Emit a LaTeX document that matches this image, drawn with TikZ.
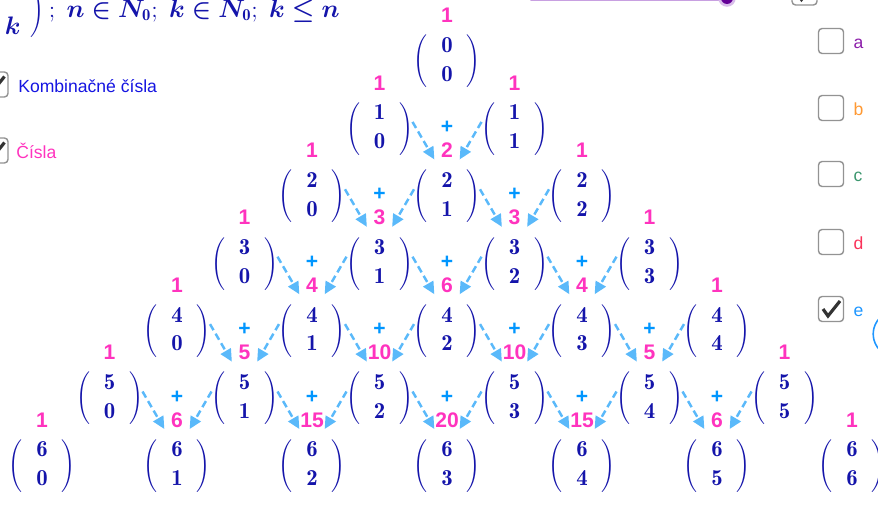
\documentclass[tikz,border=0pt]{standalone}
\usepackage{fontspec}
\usepackage{bm}
\newfontfamily\arial{Liberation Sans}
\usetikzlibrary{arrows.meta,positioning}

\definecolor{kcmodra}{RGB}{20,20,170}
\definecolor{ruzova}{RGB}{255,51,190}
\definecolor{plusmodra}{RGB}{0,150,255}
\definecolor{sipkamodra}{RGB}{90,185,250}
\definecolor{textmodra}{RGB}{20,20,225}
\definecolor{fialova}{RGB}{140,30,170}
\definecolor{oranzova}{RGB}{255,153,51}
\definecolor{zelena}{RGB}{60,150,110}
\definecolor{cervena}{RGB}{250,50,90}
\definecolor{emodra}{RGB}{30,150,255}
\definecolor{levandula}{RGB}{200,160,225}
\definecolor{tmavofialova}{RGB}{100,0,150}

\newcommand{\kc}[2]{$\displaystyle\Biggl(\;\;{\mathbf{#1}\atop\mathbf{#2}}\;\;\Biggr)$}
\newcommand{\bodkociarka}{\mathchar"603B\;}
\newcommand{\vzorec}{$\displaystyle\left(\;{\bm{n}\atop\bm{k}}\;\right)\bodkociarka\bm{n}\bm{\in}\bm{N}_{\mathbf{0}}\bodkociarka\bm{k}\bm{\in}\bm{N}_{\mathbf{0}}\bodkociarka\bm{k}\bm{\leq}\bm{n}$}

\tikzset{
    kombi/.style={inner sep=0pt, text=kcmodra, font=\fontsize{13}{15.6}\selectfont},
    cislo/.style={inner sep=0pt, minimum width=14pt, minimum height=10pt, text=ruzova, font=\arial\bfseries\fontsize{12}{14}\selectfont},
    plusko/.style={inner sep=0pt, text=plusmodra, font=\arial\bfseries\fontsize{12}{14}\selectfont},
    sipka/.style={sipkamodra, line width=1.4pt, dash pattern=on 4pt off 2.3pt, -{Triangle[length=7pt,width=6.5pt]}},
    policko/.style={draw=gray!85, fill=white, line width=0.8pt, rounded corners=2pt, minimum size=14.2pt, inner sep=0pt},
    fajka/.style={draw=black!80, line width=1.8pt},
    popis/.style={anchor=base west, inner sep=0pt, font=\arial\fontsize{10}{12}\selectfont}
}

\begin{document}
\begin{tikzpicture}[x=0.02cm, y=-0.02cm]
    \useasboundingbox (0,0) rectangle (878,507);

    % Posuvnik
    \draw[levandula, line width=2.8pt, line cap=round] (532,-1) -- (727,-1);
    \fill[levandula!70] (727,-2) circle (5pt);
    \fill[tmavofialova] (727,-2) circle (3.4pt);

    % Policka vlavo
    \node[policko] (pk) at (-4.5,84.5) {};
    \draw[fajka] ([shift={(-8,0)}]pk.center) -- ([shift={(-3,7)}]pk.center) -- ([shift={(9,-8)}]pk.center);
    \node[popis, text=textmodra] (tk) at (18,92) {Kombinačné čísla};
    \node[policko] (pc) at (-4.5,150.5) {};
    \draw[fajka] ([shift={(-8,0)}]pc.center) -- ([shift={(-3,7)}]pc.center) -- ([shift={(9,-8)}]pc.center);
    \node[popis, text=ruzova] (tc) at (16,158) {Čísla};

    % Policka vpravo
    \node[policko] (pt) at (804.5,-7.5) {};
    \draw[fajka] ([shift={(-8,0)}]pt.center) -- ([shift={(-3,7)}]pt.center) -- ([shift={(9,-8)}]pt.center);
    \node[policko] (pa) at (831,41) {};
    \node[popis, text=fialova] (la) at ([shift={(9,7)}]pa.east) {a};
    \node[policko] (pb) at (831,108) {};
    \node[popis, text=oranzova] (lb) at ([shift={(9,7)}]pb.east) {b};
    \node[policko] (pcc) at (831,174) {};
    \node[popis, text=zelena] (lc) at ([shift={(9,7)}]pcc.east) {c};
    \node[policko] (pd) at (831,242) {};
    \node[popis, text=cervena] (ld) at ([shift={(9,7)}]pd.east) {d};
    \node[policko] (pe) at (831,309) {};
    \draw[fajka] ([shift={(-8,0)}]pe.center) -- ([shift={(-3,7)}]pe.center) -- ([shift={(9,-8)}]pe.center);
    \node[popis, text=emodra] (le) at ([shift={(9,7)}]pe.east) {e};
    \draw[emodra, line width=0.9pt] (896,334) circle (13pt);

    % Kombinacne cisla a ich hodnoty
    \foreach \n in {0,...,6}{
        \foreach \k in {0,...,\n}{
            \pgfmathsetmacro\bx{447+67.5*(2*\k-\n)}
            \pgfmathsetmacro\by{61.5+67.4*\n}
            \pgfmathsetmacro\sy{\by-46}
            \pgfmathtruncatemacro\hodnota{round(factorial(\n)/(factorial(\k)*factorial(\n-\k)))}
            \node[kombi] (b\n\k) at (\bx,\by) {\kc{\n}{\k}};
            \node[cislo] (s\n\k) at (\bx,\sy) {\hodnota};
        }
    }

    % Scitanie
    \foreach \n in {2,...,6}{
        \pgfmathtruncatemacro\m{\n-1}
        \foreach \k in {1,...,\m}{
            \pgfmathtruncatemacro\kk{\k-1}
            \node[plusko] (p\n\k) at ([shift={(0,-23)}]s\n\k.center) {+};
            \draw[sipka] ([shift={(33,-7)}]b\m\kk.center) -- (s\n\k.south west);
            \draw[sipka] ([shift={(-33,-7)}]b\m\k.center) -- (s\n\k.south east);
        }
    }

    % Vzorec hore
    \node[anchor=base east, inner sep=0pt, text=kcmodra] (vz) at (340,17) {\fontsize{13.5}{16}\selectfont\vzorec};
\end{tikzpicture}
\end{document}
